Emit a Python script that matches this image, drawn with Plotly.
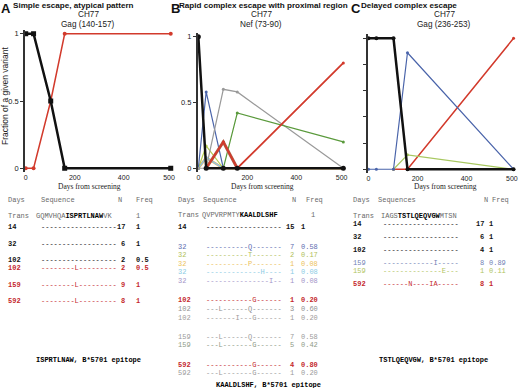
import plotly.graph_objects as go

W, H = 520, 388

# ---------------- data ----------------
days = [0, 32, 102, 159, 592]
x_tickvals = [0, 200, 400, 585]
x_ticktext = ["0", "200", "400", "500"]
y_tickvals = [0, 0.5, 1]
y_ticktext = ["0", "0.5", "1"]

# Panel A: Gag (140-157)
a_transmitted = [1, 1, 0.5, 0, 0]
a_L = [0, 0, 0.5, 1, 1]

# Panel B: Nef (73-90)
b_transmitted = [1, 0, 0, 0, 0]
b_Q = [0, 0.58, 0, 0, 0]
b_T = [0, 0.17, 0, None, None]
b_P = [0, 0.08, 0, 0, 0]
b_H = [0, 0.08, 0, None, None]
b_I = [0, 0.08, 0, 0, 0]
b_LQ = [0, 0, 0.60, 0.58, 0]
b_IG = [None, 0, 0.20, 0, None]
b_LG = [None, None, 0, 0.42, 0.20]
b_G = [None, 0, 0.20, 0, 0.80]

# Panel C: Gag (236-253)
c_transmitted = [1, 1, 1, 0, 0]
c_I = [0, 0, 0, 0.89, 0]
c_E = [None, None, 0, 0.11, 0]
c_NIA = [None, None, 0, 0, 1]

# Tables
a_trans = ("GQMVHQA", "ISPRTLNAW", "VK")
a_days = ["14", "32", "102", "102", "159", "592"]
a_seqs = ["------------------", "------------------", "------------------",
          "--------L---------", "--------L---------", "--------L---------"]
a_n = ["17", "6", "2", "2", "9", "8"]
a_freq = ["1", "1", "0.5", "0.5", "1", "1"]

b_trans = ("QVPVRPMTY", "KAALDLSHF", "")
b_days = ["14", "32", "32", "32", "32", "32", "102", "102", "102", "159", "159", "592", "592"]
b_seqs = ["------------------",
          "----------Q-------", "----------T-------", "----------P-------",
          "-------------H----", "---------------I--",
          "-----------G------", "---L------Q-------", "-------I---G------",
          "---L------Q-------", "---L-------G------",
          "-----------G------", "---L-------G------"]
b_n = ["15", "7", "2", "1", "1", "1", "1", "3", "1", "7", "5", "4", "1"]
b_freq = ["1", "0.58", "0.17", "0.08", "0.08", "0.08", "0.20", "0.60", "0.20",
          "0.58", "0.42", "0.80", "0.20"]

c_trans = ("IAGS", "TSTLQEQVGW", "MTSN")
c_days = ["14", "32", "102", "159", "159", "592"]
c_seqs = ["------------------", "------------------", "------------------",
          "------------I-----", "--------------E---", "------N----IA-----"]
c_n = ["17", "6", "4", "8", "1", "8"]
c_freq = ["1", "1", "1", "0.89", "0.11", "1"]

# ---------------- styles ----------------
RED = "#d23a2c"
TRED = "#c4282c"
BLACK = "#111111"
SANS = "Liberation Sans, Arial, sans-serif"
SERIF = "Liberation Serif, Times New Roman, serif"
MONO = "Liberation Mono, Courier New, monospace"

a_row_colors = [BLACK, BLACK, BLACK, TRED, TRED, TRED]
a_row_bold = [True, True, True, True, True, True]
b_row_colors = [BLACK, "#5d6db0", "#b0c058", "#ecc25a", "#8ccce4", "#a394c8",
                TRED, "#909090", "#a09a98", "#9a9a9a", "#8e9a86", TRED, "#9a9a9a"]
b_row_bold = [True, False, False, False, False, False, True, False, False, False, False, True, False]
c_row_colors = [BLACK, BLACK, BLACK, "#7080b4", "#b0c460", TRED]
c_row_bold = [True, True, True, False, False, True]

fig = go.Figure()

def line(x, y, color, width, xa, ya, msize=4, symbol="circle"):
    fig.add_trace(go.Scatter(x=x, y=y, mode="lines+markers", xaxis=xa, yaxis=ya,
                             line=dict(color=color, width=width),
                             marker=dict(color=color, size=msize, symbol=symbol),
                             cliponaxis=False, showlegend=False, hoverinfo="skip"))

# Panel A
line(days, a_L, RED, 1.5, "x", "y", 4)
line(days, a_transmitted, BLACK, 2.5, "x", "y", 5, "square")

# Panel B
line(days, b_P, "#e8b860", 2.5, "x2", "y2", 3)
line(days, b_I, "#a898d8", 1.2, "x2", "y2", 3)
line(days, b_H, "#8ccce4", 1.2, "x2", "y2", 3)
line(days, b_T, "#b4cc50", 1.2, "x2", "y2", 3)
line(days, b_Q, "#4a64aa", 1.2, "x2", "y2", 3)
line(days, b_LQ, "#9a9a9a", 1.2, "x2", "y2", 3)
line(days, b_LG, "#5a9a3c", 1.2, "x2", "y2", 3)
line(days, b_IG, "#b06048", 3, "x2", "y2", 3)
line(days, b_G, RED, 1.8, "x2", "y2", 3)
line(days, b_transmitted, BLACK, 2.5, "x2", "y2", 5)

# Panel C
line(days, c_NIA, RED, 1.5, "x3", "y3", 3)
line(days, c_E, "#a8c860", 1.2, "x3", "y3", 3)
line(days, c_I, "#4a64aa", 1.2, "x3", "y3", 3)
line(days, c_transmitted, BLACK, 2.5, "x3", "y3", 4)

# ---------------- axes ----------------
def dom_x(l, r):
    return [l / W, r / W]

def dom_y(top, bottom):
    return [1 - bottom / H, 1 - top / H]

xcommon = dict(range=[-3, 600], tickvals=x_tickvals, ticktext=x_ticktext, showgrid=False,
               zeroline=False, showline=False, ticks="", automargin=False,
               tickfont=dict(family=SANS, size=7, color="#222"))
ycommon = dict(range=[-0.03, 1.03], showgrid=False, zeroline=False, showline=True,
               linecolor="#333", linewidth=1.5, ticks="outside", ticklen=3, tickcolor="#333",
               automargin=False, tickfont=dict(family=SANS, size=7.5, color="#222"))

fig.update_layout(
    xaxis=dict(domain=dom_x(25, 172.7), anchor="y", **xcommon),
    yaxis=dict(domain=dom_y(29.7, 172.3), anchor="x", tickvals=y_tickvals, ticktext=y_ticktext, **ycommon),
    xaxis2=dict(domain=dom_x(197.6, 345.3), anchor="y2", **xcommon),
    yaxis2=dict(domain=dom_y(32.7, 172.2), anchor="x2", tickvals=y_tickvals, ticktext=y_ticktext, **ycommon),
    xaxis3=dict(domain=dom_x(367.8, 515.5), anchor="y3", **xcommon),
    yaxis3=dict(domain=dom_y(34.4, 173.2), anchor="x3", tickvals=[0, 0.2, 0.4, 0.6, 0.8, 1],
                showticklabels=False, **ycommon),
    width=W, height=H, margin=dict(l=0, r=0, t=0, b=0),
    plot_bgcolor="white", paper_bgcolor="white",
)

# ---------------- text ----------------
def txt(x, y, text, size=7, color="#000", family=MONO, anchor="left", angle=0):
    fig.add_annotation(x=x / W, y=1 - y / H, xref="paper", yref="paper", text=text,
                       showarrow=False, xanchor=anchor, yanchor="middle", textangle=angle,
                       borderpad=0, font=dict(family=family, size=size, color=color))

# panel titles
for lx, letter, tx, title in [(0, "A", 12, "Simple escape, atypical pattern"),
                              (170, "B", 177.5, "Rapid complex escape with proximal region"),
                              (349.5, "C", 360, "Delayed complex escape")]:
    txt(lx, 8, "<b>%s</b>" % letter, 13, "#111", SANS)
    txt(tx, 5.5, "<b>%s</b>" % title, 8.1, "#111", SANS)

for cx, cy, cy0, prot in [(88, 25, 15, "Gag (140-157)"), (261, 24.5, 15, "Nef (73-90)"),
                          (444, 24.5, 15, "Gag (236-253)")]:
    txt(cx, cy0, "CH77", 8.2, "#222", SANS, "center")
    txt(cx, cy, prot, 8.2, "#222", SANS, "center")
    txt(cx + 1, 186, "Days from screening", 7.5, "#222", SERIF, "center")

txt(5, 96, "Fraction of a given variant", 8.5, "#222", SANS, "center", -90)

GREY = "#6a6a6a"

def table(cfg, trans, rdays, seqs, ns, freqs, colors, bolds):
    dx, sx_t, sx, nr, fx, tfx = cfg["days_x"], cfg["trans_x"], cfg["seq_x"], cfg["n_r"], cfg["freq_x"], cfg["tfreq_x"]
    # header
    txt(dx, 200, "Days", 7, GREY)
    txt(cfg["h_seq_x"], 200, cfg["h_seq"], 7, GREY)
    txt(cfg["h_n_x"], 200, "N", 7, GREY, MONO, "center")
    txt(cfg["h_f_x"], 200, "Freq", 7, GREY)
    # transmitted
    ty = cfg["trans_y"]
    txt(dx, ty, "Trans", 7, GREY)
    t = "<span style='color:%s'>%s</span><b>%s</b>" % (GREY, trans[0], trans[1])
    if trans[2]:
        t += "<span style='color:%s'>%s</span>" % (GREY, trans[2])
    txt(sx_t, ty, t, 7, "#000")
    if tfx is not None:
        txt(tfx, ty, "1", 7, GREY)
    g = 0
    for i, d in enumerate(rdays):
        if i > 0 and d != rdays[i - 1]:
            g += 1
        y = cfg["row0"] + cfg["pitch"] * i + cfg["gap"] * g
        c = colors[i]
        b = (lambda s: "<b>%s</b>" % s) if bolds[i] else (lambda s: s)
        txt(dx, y, b(d), 7, c)
        txt(sx, y, seqs[i], 7, c)
        txt(nr, y, b(ns[i]), 7, c, MONO, "right")
        txt(fx, y, b(freqs[i]), 7, c)

table(dict(days_x=7, trans_x=35, seq_x=39.5, n_r=125.5, freq_x=135, tfreq_x=135,
           h_seq="Sequence", h_seq_x=40, h_n_x=120, h_f_x=135,
           trans_y=215.7, row0=227.3, pitch=8.7, gap=7.5),
      a_trans, a_days, a_seqs, a_n, a_freq, a_row_colors, a_row_bold)
table(dict(days_x=177, trans_x=200.5, seq_x=204.5, n_r=295, freq_x=300, tfreq_x=310,
           h_seq="Sequence", h_seq_x=201.5, h_n_x=294, h_f_x=305,
           trans_y=215, row0=227.3, pitch=8.6, gap=10.7),
      b_trans, b_days, b_seqs, b_n, b_freq, b_row_colors, b_row_bold)
table(dict(days_x=352, trans_x=380, seq_x=381.5, n_r=485, freq_x=487.5, tfreq_x=None,
           h_seq="Sequences", h_seq_x=376.5, h_n_x=486, h_f_x=491,
           trans_y=215.7, row0=224.3, pitch=8, gap=5),
      c_trans, c_days, c_seqs, c_n, c_freq, c_row_colors, c_row_bold)

txt(88, 360, "<b>ISPRTLNAW, B*5701 epitope</b>", 7, "#000", MONO, "center")
txt(268, 384.5, "<b>KAALDLSHF, B*5701 epitope</b>", 7, "#000", MONO, "center")
txt(433, 360, "<b>TSTLQEQVGW, B*5701 epitope</b>", 7, "#000", MONO, "center")

fig.write_html("out.html", config={"displayModeBar": False},
               post_script="document.body.style.margin='0';document.body.style.padding='0';")
